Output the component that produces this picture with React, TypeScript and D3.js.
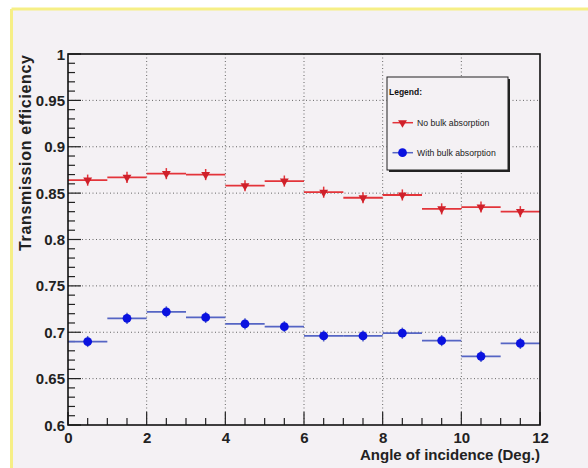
import React from "react";
import * as d3 from "d3";

const binCenters = [0.5, 1.5, 2.5, 3.5, 4.5, 5.5, 6.5, 7.5, 8.5, 9.5, 10.5, 11.5];
const binHalfWidth = 0.5;
const noBulk = [0.864, 0.867, 0.871, 0.870, 0.858, 0.863, 0.851, 0.845, 0.848, 0.833, 0.835, 0.830];
const noBulkErr = [0.006, 0.006, 0.006, 0.006, 0.006, 0.006, 0.006, 0.006, 0.006, 0.006, 0.006, 0.006];
const withBulk = [0.690, 0.715, 0.722, 0.716, 0.709, 0.706, 0.696, 0.696, 0.699, 0.691, 0.674, 0.688];
const withBulkErr = [0.006, 0.006, 0.006, 0.006, 0.006, 0.006, 0.006, 0.006, 0.006, 0.006, 0.006, 0.006];
const xTicks = [0, 2, 4, 6, 8, 10, 12];
const yTicks = [0.6, 0.65, 0.7, 0.75, 0.8, 0.85, 0.9, 0.95, 1];
const yTickLabels = ["0.6", "0.65", "0.7", "0.75", "0.8", "0.85", "0.9", "0.95", "1"];
const legendLabels = ["No bulk absorption", "With bulk absorption"];

const W = 588, H = 468;
const L = 68, R = 540, T = 54, B = 425;
const FONT = "'Liberation Sans', Arial, Helvetica, sans-serif";
const RED_LINE = "#e3343a";
const RED_MARK = "#d0202a";
const BLUE_LINE = "#5565c4";
const BLUE_MARK = "#0a12e0";

export default function App() {
  const x = d3.scaleLinear().domain([0, 12]).range([L, R]);
  const y = d3.scaleLinear().domain([0.6, 1]).range([B, T]);
  const xMinor = d3.range(0, 12.0001, 0.5);
  const yMinor = d3.range(0.6, 1.0001, 0.01);
  const tri = d3.symbol().type(d3.symbolTriangle).size(34)();

  const series = [
    { vals: noBulk, errs: noBulkErr, line: RED_LINE, mark: RED_MARK, kind: "tri" },
    { vals: withBulk, errs: withBulkErr, line: BLUE_LINE, mark: BLUE_MARK, kind: "circle" },
  ];

  const marker = (kind: string, color: string, cx: number, cy: number, key?: any) =>
    kind === "tri" ? (
      <path key={key} d={tri as string} transform={`translate(${cx},${cy}) rotate(180)`} fill={color} />
    ) : (
      <circle key={key} cx={cx} cy={cy} r={4.4} fill={color} />
    );

  return (
    <svg width={W} height={H} style={{ position: "absolute", left: 0, top: 0 }} fontFamily={FONT}>
      <rect x={0} y={0} width={W} height={H} fill="#ffffff" />
      <rect x={11.5} y={9} width={W - 11.5} height={H - 9} fill="#f4f1f4" />
      <line x1={11.5} y1={9} x2={W} y2={9} stroke="#f6ef86" strokeWidth={3} />
      <line x1={11.5} y1={9} x2={11.5} y2={H} stroke="#f6ef86" strokeWidth={3} />

      {/* grid */}
      {xTicks.filter((t) => t > 0 && t < 12).map((t) => (
        <line key={"gx" + t} x1={x(t)} x2={x(t)} y1={T} y2={B} stroke="#666" strokeWidth={1} strokeDasharray="1,2.5" />
      ))}
      {yTicks.filter((t) => t > 0.6 && t < 1).map((t) => (
        <line key={"gy" + t} x1={L} x2={R} y1={y(t)} y2={y(t)} stroke="#666" strokeWidth={1} strokeDasharray="1,2.5" />
      ))}

      {/* ticks */}
      {yMinor.map((t, i) => {
        const major = i % 5 === 0;
        return <line key={"ty" + i} x1={L} x2={L + (major ? 13 : 7)} y1={y(t)} y2={y(t)} stroke="#222" strokeWidth={1.2} />;
      })}
      {xMinor.map((t, i) => {
        const major = i % 4 === 0;
        return <line key={"tx" + i} x1={x(t)} x2={x(t)} y1={B} y2={B - (major ? 13 : 7)} stroke="#222" strokeWidth={1.2} />;
      })}

      {/* data */}
      {series.map((s, si) => (
        <g key={"s" + si}>
          {binCenters.map((c, i) => (
            <g key={i}>
              <line x1={x(c - binHalfWidth)} x2={x(c + binHalfWidth)} y1={y(s.vals[i])} y2={y(s.vals[i])} stroke={s.line} strokeWidth={1.8} />
              <line x1={x(c)} x2={x(c)} y1={y(s.vals[i] - s.errs[i])} y2={y(s.vals[i] + s.errs[i])} stroke={s.line} strokeWidth={1.5} />
              {marker(s.kind, s.mark, x(c), y(s.vals[i]))}
            </g>
          ))}
        </g>
      ))}

      {/* frame */}
      <rect x={L} y={T} width={R - L} height={B - T} fill="none" stroke="#111" strokeWidth={1.6} />

      {/* tick labels */}
      {yTicks.map((t, i) => (
        <text key={"yl" + i} x={L - 3} y={y(t) + 5.5} textAnchor="end" fontSize={15} fontWeight="bold" fill="#222">
          {yTickLabels[i]}
        </text>
      ))}
      {xTicks.map((t) => (
        <text key={"xl" + t} x={x(t) + 0.5} y={443} textAnchor="middle" fontSize={15} fontWeight="bold" fill="#222">
          {t}
        </text>
      ))}

      {/* axis titles */}
      <text x={540} y={460} textAnchor="end" fontSize={15} fontWeight="bold" fill="#222">
        Angle of incidence (Deg.)
      </text>
      <text transform="translate(31,55) rotate(-90)" textAnchor="end" fontSize={16} fontWeight="bold" fill="#222" textLength={196} lengthAdjust="spacing">
        Transmission efficiency
      </text>

      {/* legend */}
      <rect x={389} y={79} width={121} height={93} fill="#222" />
      <rect x={387} y={77} width={121} height={93} fill="#f4f1f4" stroke="#222" strokeWidth={1} />
      <text x={389} y={95} fontSize={8.5} fontWeight="bold" fill="#111">Legend:</text>
      {series.map((s, si) => {
        const ly = 122.7 + si * 30;
        return (
          <g key={"lg" + si}>
            <line x1={392.5} x2={413} y1={ly} y2={ly} stroke={s.line} strokeWidth={1.5} />
            {marker(s.kind, s.mark, 402.5, ly)}
            <text x={417} y={ly + 3.2} fontSize={8.7} fill="#222">{legendLabels[si]}</text>
          </g>
        );
      })}
    </svg>
  );
}
